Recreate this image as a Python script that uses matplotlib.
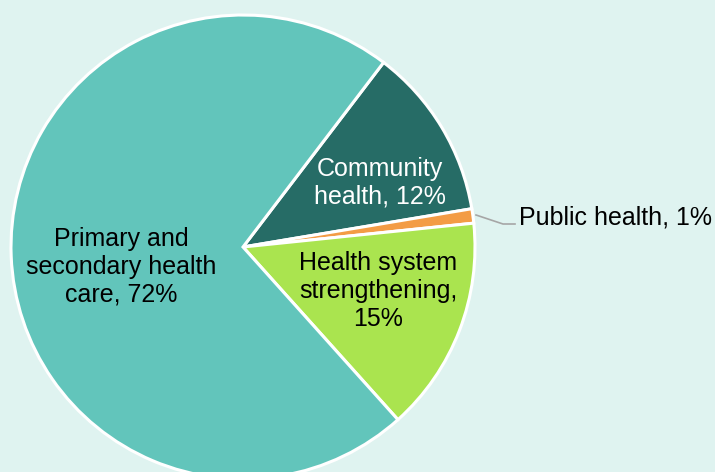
import numpy as np
import matplotlib
matplotlib.use("Agg")
import matplotlib.pyplot as plt

# slices, in drawing order (clockwise from top-right)
categories = ["Community\nhealth", "Public health", "Health system\nstrengthening,\n", "Primary and\nsecondary health\ncare"]
shares = [12, 1, 15, 72]
colors = ["#266c66", "#f39c45", "#aae44f", "#62c5bb"]

bg = "#dff3f0"

plt.rcParams['font.family'] = ['Liberation Sans', 'DejaVu Sans']

fig = plt.figure(figsize=(7.15, 4.72), dpi=100, facecolor=bg)
ax = fig.add_axes([0, 0, 1, 1])
ax.set_facecolor(bg)

cx, cy, r = 243, 472 - 247, 232
wedges, _ = ax.pie(shares, colors=colors, startangle=52.7, counterclock=False,
                   center=(cx, cy), radius=r,
                   wedgeprops=dict(edgecolor='white', linewidth=2.2))
ax.set_xlim(0, 715)
ax.set_ylim(0, 472)
ax.set_aspect('equal')
ax.axis('off')


def lab(i):
    name = categories[i]
    sep = "" if name.endswith("\n") else ", "
    return "%s%s%d%%" % (name, sep, shares[i])


fs = 18
# labels inside the slices
ax.text(121, 472 - 267, lab(3), ha='center', va='center', fontsize=fs,
        color='black', linespacing=1.2)
ax.text(380, 472 - 183, lab(0), ha='center', va='center', fontsize=fs,
        color='white', linespacing=1.2)
ax.text(378, 472 - 291, lab(2), ha='center', va='center', fontsize=fs,
        color='black', linespacing=1.2)

# public health sits outside, with a leader line
ax.plot([476, 503, 515], [472 - 215, 472 - 224, 472 - 224], color='#a6a6a6', lw=1.2)
ax.text(519, 472 - 217, lab(1), ha='left', va='center', fontsize=fs, color='black')

plt.savefig("out.png", dpi=100, facecolor=bg)
